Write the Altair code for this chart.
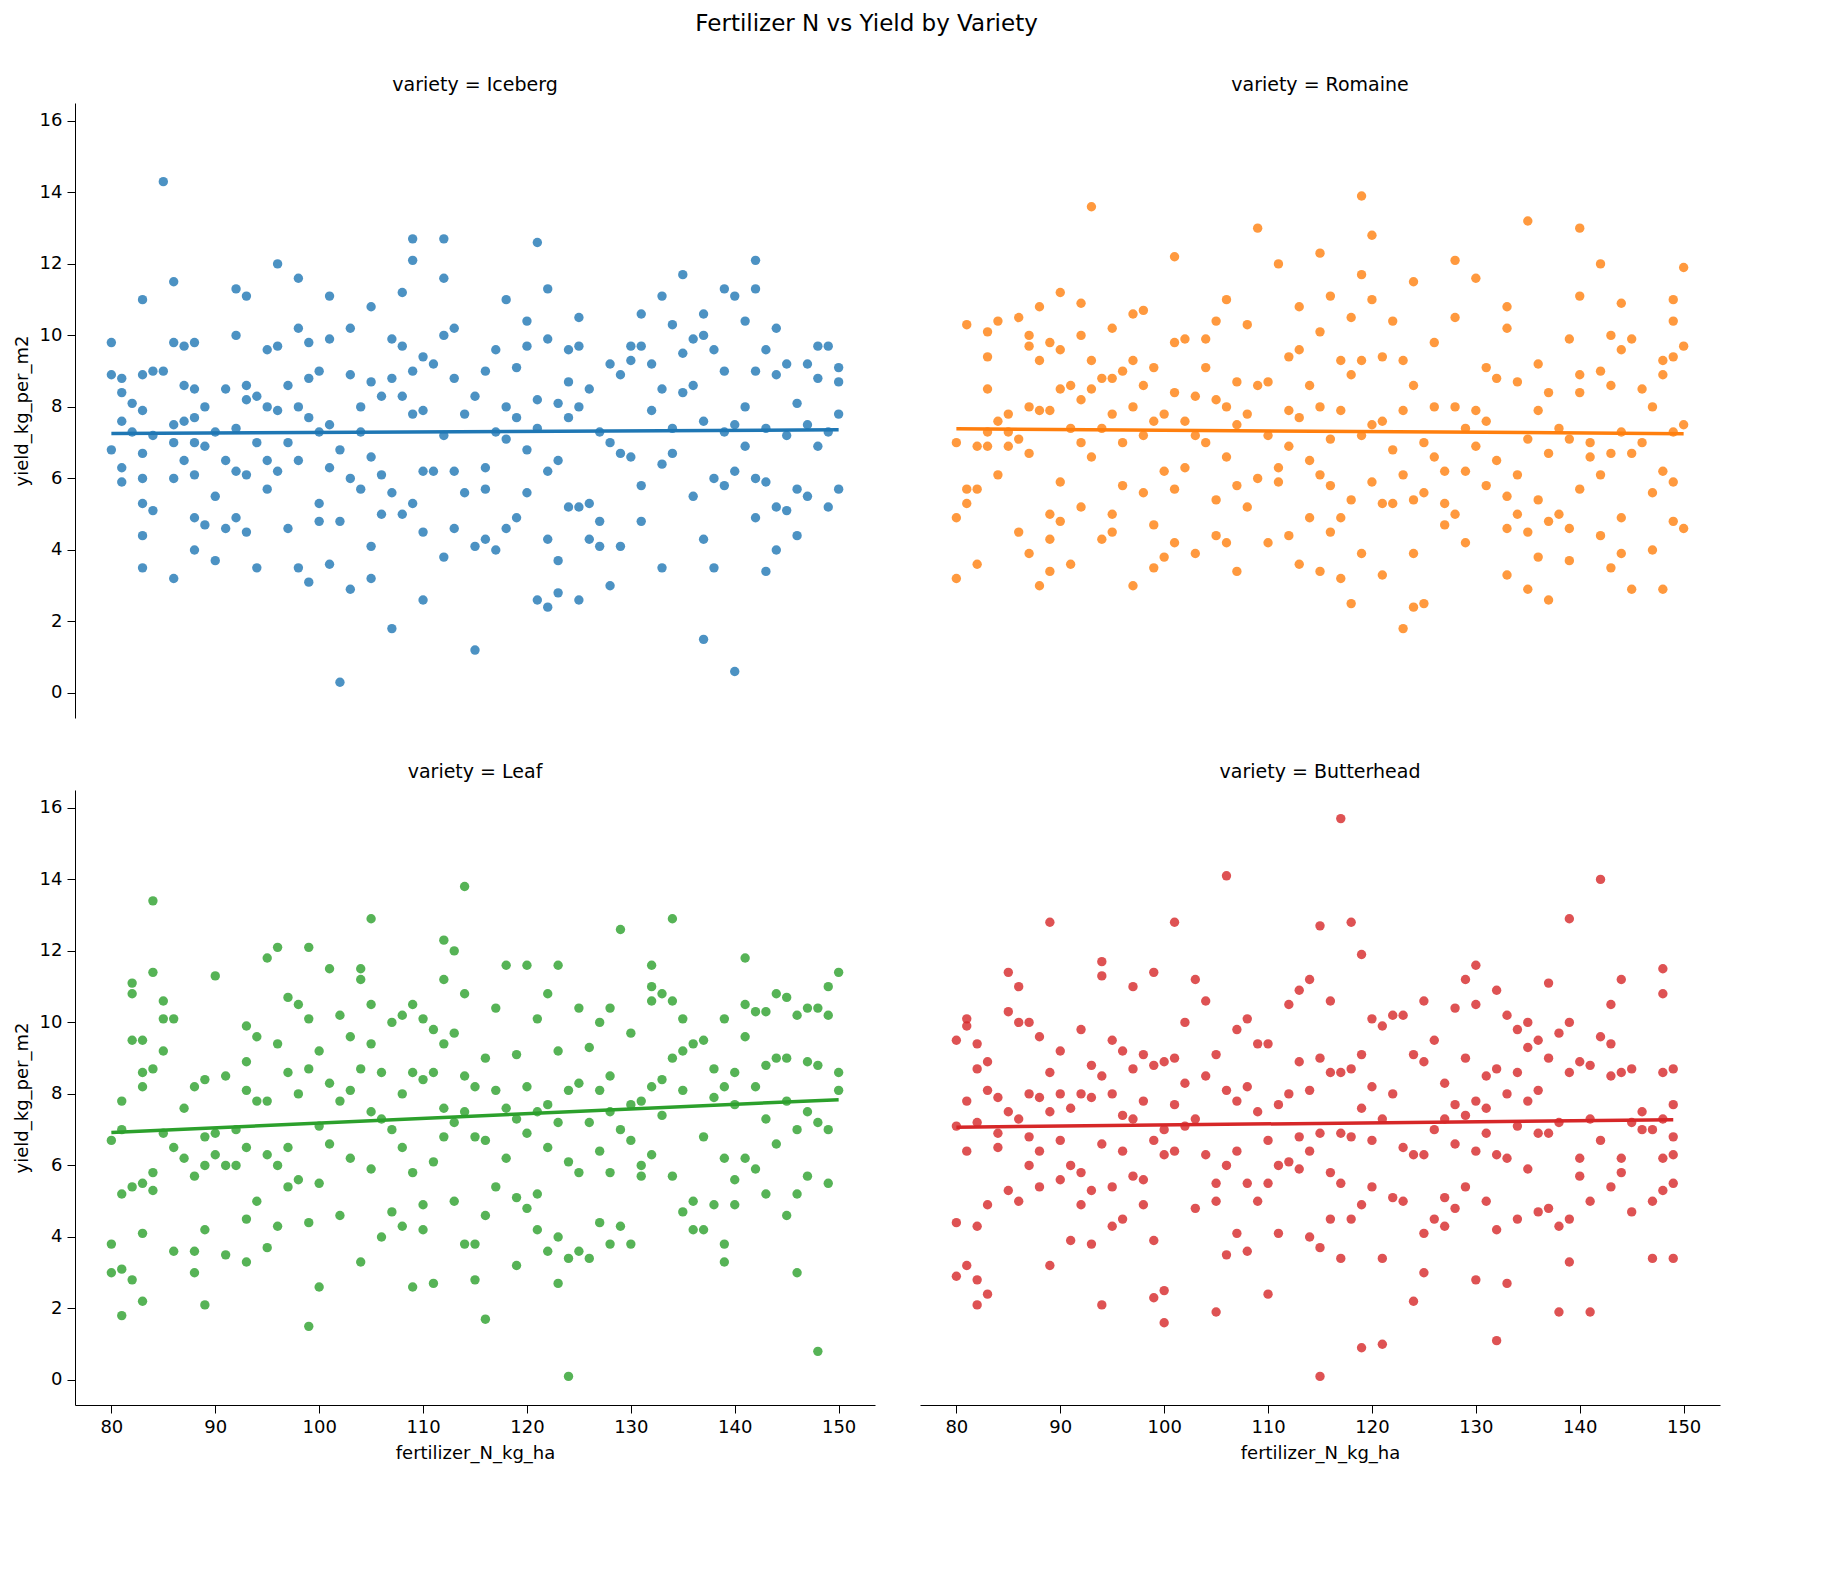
import altair as alt
import pandas as pd

varieties = ["Iceberg", "Romaine", "Leaf", "Butterhead"]
colors = ["#1f77b4", "#ff7f0e", "#2ca02c", "#d62728"]

# (fertilizer_N_kg_ha, yield_kg_per_m2)
iceberg = [(80,9.8),(80,8.9),(80,6.8),(81,8.8),(81,8.4),(81,7.6),(81,6.3),(81,5.9),(82,8.1),(82,7.3),(83,11.0),(83,8.9),(83,7.9),(83,6.7),(83,6.0),(83,5.3),(83,4.4),(83,3.5),(84,9.0),(84,7.2),(84,5.1),(85,14.3),(85,9.0),(86,11.5),(86,9.8),(86,7.5),(86,7.0),(86,6.0),(86,3.2),(87,9.7),(87,8.6),(87,7.6),(87,6.5),(88,9.8),(88,8.5),(88,7.7),(88,7.0),(88,6.1),(88,4.9),(88,4.0),(89,8.0),(89,6.9),(89,4.7),(90,7.3),(90,5.5),(90,3.7),(91,8.5),(91,6.5),(91,4.6),(92,11.3),(92,10.0),(92,7.4),(92,6.2),(92,4.9),(93,11.1),(93,8.6),(93,8.2),(93,6.1),(93,4.5),(94,8.3),(94,7.0),(94,3.5),(95,9.6),(95,8.0),(95,6.5),(95,5.7),(96,12.0),(96,9.7),(96,7.9),(96,6.2),(97,8.6),(97,7.0),(97,4.6),(98,11.6),(98,10.2),(98,8.0),(98,6.5),(98,3.5),(99,9.8),(99,8.8),(99,7.7),(99,3.1),(100,5.3),(100,4.8),(100,9.0),(100,7.3),(101,11.1),(101,9.9),(101,7.5),(101,6.3),(101,3.6),(102,6.8),(102,0.3),(102,4.8),(103,10.2),(103,8.9),(103,6.0),(103,2.9),(104,8.0),(104,7.3),(104,5.7),(105,10.8),(105,8.7),(105,6.6),(105,4.1),(105,3.2),(106,8.3),(106,6.1),(106,5.0),(107,9.9),(107,8.8),(107,5.6),(107,1.8),(108,11.2),(108,9.7),(108,8.3),(108,5.0),(109,12.7),(109,12.1),(109,9.0),(109,7.8),(109,5.3),(110,9.4),(110,7.9),(110,6.2),(110,4.5),(110,2.6),(111,9.2),(111,6.2),(112,12.7),(112,11.6),(112,10.0),(112,7.2),(112,3.8),(113,10.2),(113,8.8),(113,6.2),(113,4.6),(114,7.8),(114,5.6),(115,8.3),(115,4.1),(115,1.2),(116,9.0),(116,6.3),(116,5.7),(116,4.3),(117,9.6),(117,7.3),(117,4.0),(118,11.0),(118,8.0),(118,7.1),(118,4.6),(119,9.1),(119,7.7),(119,4.9),(120,10.4),(120,9.7),(120,6.8),(120,5.6),(121,12.6),(121,8.2),(121,7.4),(121,2.6),(122,11.3),(122,9.9),(122,6.2),(122,4.3),(122,2.4),(123,8.1),(123,6.5),(123,3.7),(123,2.8),(124,9.6),(124,8.7),(124,7.7),(124,5.2),(125,10.5),(125,9.7),(125,8.0),(125,5.2),(125,2.6),(126,8.5),(126,5.3),(126,4.3),(127,7.3),(127,4.8),(127,4.1),(128,9.2),(128,7.0),(128,3.0),(129,8.9),(129,6.7),(129,4.1),(130,9.7),(130,9.3),(130,6.6),(131,10.6),(131,9.7),(131,5.8),(131,4.8),(132,9.2),(132,7.9),(133,11.1),(133,8.5),(133,3.5),(133,6.4),(134,10.3),(134,7.4),(134,6.7),(135,11.7),(135,9.5),(135,8.4),(136,9.9),(136,8.6),(136,5.5),(137,10.6),(137,10.0),(137,7.6),(137,4.3),(137,1.5),(138,9.6),(138,6.0),(138,3.5),(139,11.3),(139,9.0),(139,7.3),(139,5.8),(140,11.1),(140,7.5),(140,6.2),(140,0.6),(141,10.4),(141,8.0),(141,6.9),(142,12.1),(142,11.3),(142,9.0),(142,6.0),(142,4.9),(143,9.6),(143,7.4),(143,5.9),(143,3.4),(144,10.2),(144,8.9),(144,5.2),(144,4.0),(145,9.2),(145,7.2),(145,5.1),(146,8.1),(146,5.7),(146,4.4),(147,9.2),(147,7.5),(147,5.5),(148,9.7),(148,8.8),(148,6.9),(149,9.7),(149,7.3),(149,5.2),(150,9.1),(150,8.7),(150,7.8),(150,5.7)]

romaine = [(80,7.0),(80,4.9),(80,3.2),(81,10.3),(81,5.7),(81,5.3),(82,6.9),(82,5.7),(82,3.6),(83,10.1),(83,9.4),(83,8.5),(83,7.3),(83,6.9),(84,10.4),(84,7.6),(84,6.1),(85,7.8),(85,7.3),(85,6.9),(86,10.5),(86,7.1),(86,4.5),(87,10.0),(87,9.7),(87,8.0),(87,6.7),(87,3.9),(88,10.8),(88,9.3),(88,7.9),(88,3.0),(89,9.8),(89,7.9),(89,5.0),(89,4.3),(89,3.4),(90,11.2),(90,9.6),(90,8.5),(90,5.9),(90,4.8),(91,8.6),(91,7.4),(91,3.6),(92,10.9),(92,10.0),(92,8.2),(92,7.0),(92,5.2),(93,13.6),(93,9.3),(93,8.5),(93,6.6),(94,8.8),(94,7.4),(94,4.3),(95,10.2),(95,8.8),(95,7.8),(95,5.0),(95,4.5),(96,9.0),(96,7.0),(96,5.8),(97,10.6),(97,9.3),(97,8.0),(97,3.0),(98,10.7),(98,8.6),(98,7.2),(98,5.6),(99,9.1),(99,7.6),(99,4.7),(99,3.5),(100,7.8),(100,6.2),(100,3.8),(101,12.2),(101,9.8),(101,8.4),(101,5.7),(101,4.2),(102,9.9),(102,7.6),(102,6.3),(103,8.3),(103,7.2),(103,3.9),(104,9.9),(104,9.1),(104,7.0),(105,10.4),(105,8.2),(105,5.4),(105,4.4),(106,11.0),(106,8.0),(106,6.6),(106,4.2),(107,8.7),(107,7.5),(107,5.8),(107,3.4),(108,10.3),(108,7.8),(108,5.2),(109,13.0),(109,8.6),(109,6.0),(110,8.7),(110,7.2),(110,4.2),(111,12.0),(111,6.3),(111,5.9),(112,9.4),(112,7.9),(112,6.9),(112,4.4),(113,10.8),(113,9.6),(113,7.7),(113,3.6),(114,8.6),(114,6.5),(114,4.9),(115,12.3),(115,10.1),(115,8.0),(115,6.1),(115,3.4),(116,11.1),(116,7.1),(116,5.8),(116,4.5),(117,9.3),(117,7.9),(117,4.9),(117,3.2),(118,10.5),(118,8.9),(118,5.4),(118,2.5),(119,13.9),(119,11.7),(119,9.3),(119,7.2),(119,3.9),(120,12.8),(120,11.0),(120,7.5),(120,5.9),(121,9.4),(121,7.6),(121,5.3),(121,3.3),(122,10.4),(122,6.8),(122,5.3),(123,9.3),(123,7.9),(123,6.1),(123,1.8),(124,11.5),(124,8.6),(124,5.4),(124,3.9),(124,2.4),(125,7.0),(125,5.6),(125,2.5),(126,9.8),(126,8.0),(126,6.6),(127,6.2),(127,5.3),(127,4.7),(128,12.1),(128,10.5),(128,8.0),(128,5.0),(129,7.4),(129,6.2),(129,4.2),(130,11.6),(130,7.9),(130,6.9),(131,9.1),(131,7.6),(131,5.8),(132,8.8),(132,6.5),(133,10.8),(133,10.2),(133,5.5),(133,4.6),(133,3.3),(134,8.7),(134,6.1),(134,5.0),(135,13.2),(135,7.1),(135,4.5),(135,2.9),(136,9.2),(136,7.9),(136,5.4),(136,3.8),(137,8.4),(137,6.7),(137,4.8),(137,2.6),(138,7.4),(138,5.0),(139,9.9),(139,7.1),(139,4.6),(139,3.7),(140,13.0),(140,11.1),(140,8.9),(140,8.4),(140,5.7),(141,7.0),(141,6.6),(142,12.0),(142,9.0),(142,6.1),(142,4.4),(143,10.0),(143,8.6),(143,6.7),(143,3.5),(144,10.9),(144,9.6),(144,7.3),(144,4.9),(144,3.9),(145,9.9),(145,6.7),(145,2.9),(146,8.5),(146,7.0),(147,8.0),(147,5.6),(147,4.0),(148,9.3),(148,8.9),(148,6.2),(148,2.9),(149,11.0),(149,10.4),(149,9.4),(149,7.3),(149,5.9),(149,4.8),(150,11.9),(150,9.7),(150,7.5),(150,4.6)]

leaf = [(80,6.7),(80,3.8),(80,3.0),(81,7.8),(81,7.0),(81,5.2),(81,3.1),(81,1.8),(82,11.1),(82,10.8),(82,9.5),(82,5.4),(82,2.8),(83,9.5),(83,8.6),(83,8.2),(83,5.5),(83,4.1),(83,2.2),(84,13.4),(84,11.4),(84,8.7),(84,5.8),(84,5.3),(85,10.6),(85,10.1),(85,9.2),(85,6.9),(86,10.1),(86,6.5),(86,3.6),(87,7.6),(87,6.2),(88,8.2),(88,5.7),(88,3.6),(88,3.0),(89,8.4),(89,6.8),(89,6.0),(89,4.2),(89,2.1),(90,11.3),(90,6.9),(90,6.3),(91,8.5),(91,6.0),(91,3.5),(92,7.0),(92,6.0),(93,9.9),(93,8.9),(93,8.1),(93,6.5),(93,4.5),(93,3.3),(94,9.6),(94,7.8),(94,5.0),(95,11.8),(95,7.8),(95,6.3),(95,3.7),(96,12.1),(96,9.4),(96,6.0),(96,4.3),(97,10.7),(97,8.6),(97,6.5),(97,5.4),(98,10.5),(98,8.0),(98,5.6),(99,12.1),(99,10.1),(99,8.7),(99,4.4),(99,1.5),(100,9.2),(100,7.1),(100,5.5),(100,2.6),(101,11.5),(101,8.3),(101,6.6),(102,10.2),(102,7.8),(102,4.6),(103,9.6),(103,8.1),(103,6.2),(104,11.5),(104,11.2),(104,8.7),(104,3.3),(105,12.9),(105,10.5),(105,9.4),(105,7.5),(105,5.9),(106,8.6),(106,7.3),(106,4.0),(107,10.0),(107,7.0),(107,4.7),(108,10.2),(108,8.0),(108,6.5),(108,4.3),(109,10.5),(109,8.6),(109,5.8),(109,2.6),(110,10.1),(110,8.4),(110,4.9),(110,4.2),(111,9.8),(111,8.6),(111,6.1),(111,2.7),(112,12.3),(112,11.2),(112,9.4),(112,7.6),(112,6.8),(113,12.0),(113,9.7),(113,7.2),(113,5.0),(114,13.8),(114,10.8),(114,8.5),(114,7.5),(114,3.8),(115,8.2),(115,6.8),(115,3.8),(115,2.8),(116,9.0),(116,6.7),(116,4.6),(116,1.7),(117,10.4),(117,8.1),(117,5.4),(118,11.6),(118,7.6),(118,6.2),(119,9.1),(119,7.3),(119,5.1),(119,3.2),(120,11.6),(120,8.2),(120,6.9),(120,4.8),(121,10.1),(121,7.5),(121,5.2),(121,4.2),(122,10.8),(122,7.7),(122,6.5),(122,3.6),(123,11.6),(123,9.2),(123,7.2),(123,4.0),(123,2.7),(124,8.1),(124,6.1),(124,3.4),(124,0.1),(125,10.4),(125,8.3),(125,5.8),(125,3.6),(126,9.3),(126,7.2),(126,3.4),(127,10.0),(127,8.1),(127,6.4),(127,4.4),(128,10.4),(128,8.5),(128,7.5),(128,5.8),(128,3.8),(129,12.6),(129,7.0),(129,4.3),(130,9.7),(130,7.7),(130,6.7),(130,3.8),(131,7.8),(131,6.0),(131,5.7),(132,11.6),(132,11.0),(132,10.6),(132,8.2),(132,6.3),(133,10.8),(133,8.4),(133,7.4),(134,12.9),(134,10.6),(134,9.0),(134,5.7),(135,10.1),(135,9.2),(135,8.1),(135,4.7),(136,9.4),(136,5.0),(136,4.2),(137,9.5),(137,6.8),(137,4.2),(138,8.7),(138,7.9),(138,4.9),(139,10.1),(139,8.2),(139,6.2),(139,3.8),(139,3.3),(140,8.6),(140,7.7),(140,5.6),(140,4.9),(141,11.8),(141,10.5),(141,9.6),(141,6.2),(142,10.3),(142,8.2),(142,5.9),(143,10.3),(143,8.8),(143,7.3),(143,5.2),(144,10.8),(144,9.0),(144,6.6),(145,10.7),(145,9.0),(145,7.8),(145,4.6),(146,10.2),(146,7.0),(146,5.2),(146,3.0),(147,10.4),(147,8.9),(147,7.5),(147,5.7),(148,10.4),(148,8.8),(148,7.2),(148,0.8),(149,11.0),(149,10.2),(149,7.0),(149,5.5),(150,11.4),(150,8.6),(150,8.1)]

butterhead = [(80,9.5),(80,7.1),(80,4.4),(80,2.9),(81,10.1),(81,9.9),(81,7.8),(81,6.4),(81,3.2),(82,9.4),(82,8.7),(82,7.2),(82,4.3),(82,2.8),(82,2.1),(83,8.9),(83,8.1),(83,4.9),(83,2.4),(84,7.9),(84,6.9),(84,6.5),(85,11.4),(85,10.3),(85,7.5),(85,5.3),(86,11.0),(86,10.0),(86,7.3),(86,5.0),(87,10.0),(87,8.0),(87,6.8),(87,6.0),(88,9.6),(88,7.9),(88,6.4),(88,5.4),(89,12.8),(89,8.6),(89,7.5),(89,3.2),(90,9.2),(90,8.0),(90,6.7),(90,5.6),(91,7.6),(91,6.0),(91,3.9),(92,9.8),(92,8.0),(92,5.8),(92,4.9),(93,8.8),(93,7.9),(93,5.3),(93,3.8),(94,11.7),(94,11.3),(94,8.5),(94,6.6),(94,2.1),(95,9.5),(95,8.0),(95,5.4),(95,4.3),(96,9.2),(96,7.4),(96,6.4),(96,4.5),(97,11.0),(97,8.7),(97,7.3),(97,5.7),(98,9.1),(98,7.8),(98,5.6),(98,4.9),(99,11.4),(99,8.8),(99,6.7),(99,3.9),(99,2.3),(100,8.9),(100,7.0),(100,6.3),(100,2.5),(100,1.6),(101,12.8),(101,9.0),(101,7.7),(101,6.4),(102,10.0),(102,8.3),(102,7.1),(103,11.2),(103,7.3),(103,4.8),(104,10.6),(104,8.5),(104,6.3),(105,9.1),(105,5.5),(105,5.0),(105,1.9),(106,14.1),(106,8.1),(106,6.0),(106,3.5),(107,9.8),(107,7.8),(107,6.4),(107,4.1),(108,10.1),(108,8.2),(108,5.5),(108,3.6),(109,9.4),(109,7.5),(109,5.0),(110,9.4),(110,6.7),(110,5.5),(110,2.4),(111,7.7),(111,6.0),(111,4.1),(112,10.5),(112,8.0),(112,6.1),(113,10.9),(113,8.9),(113,6.8),(113,5.9),(114,11.2),(114,8.1),(114,6.4),(114,4.0),(115,12.7),(115,9.0),(115,6.9),(115,3.7),(115,0.1),(116,10.6),(116,8.6),(116,5.8),(116,4.5),(117,15.7),(117,8.6),(117,6.9),(117,5.5),(117,3.4),(118,12.8),(118,8.7),(118,6.8),(118,4.5),(119,11.9),(119,9.1),(119,7.6),(119,4.9),(119,0.9),(120,10.1),(120,8.2),(120,6.7),(120,5.4),(121,9.9),(121,7.3),(121,3.4),(121,1.0),(122,10.2),(122,8.0),(122,5.1),(123,10.2),(123,6.5),(123,5.0),(124,9.1),(124,6.3),(124,2.2),(125,10.6),(125,8.9),(125,6.3),(125,4.1),(125,3.0),(126,9.5),(126,7.0),(126,4.5),(127,8.3),(127,7.3),(127,5.1),(127,4.3),(128,10.4),(128,7.7),(128,6.6),(128,4.8),(129,11.2),(129,9.0),(129,7.4),(129,5.4),(130,11.6),(130,10.5),(130,7.8),(130,6.4),(130,2.8),(131,8.5),(131,7.6),(131,6.9),(131,5.0),(132,10.9),(132,8.7),(132,6.3),(132,4.2),(132,1.1),(133,10.2),(133,8.0),(133,6.2),(133,2.7),(134,9.8),(134,8.6),(134,7.1),(134,4.5),(135,10.0),(135,9.3),(135,7.8),(135,5.9),(136,9.5),(136,8.1),(136,6.9),(136,4.7),(137,11.1),(137,9.0),(137,6.9),(137,4.8),(138,9.7),(138,7.2),(138,4.3),(138,1.9),(139,12.9),(139,10.0),(139,8.6),(139,4.5),(139,3.3),(140,8.9),(140,6.2),(140,5.7),(141,8.8),(141,7.3),(141,5.0),(141,1.9),(142,14.0),(142,9.6),(142,6.7),(143,10.5),(143,9.4),(143,8.5),(143,5.4),(144,11.2),(144,8.6),(144,6.2),(144,5.8),(145,8.7),(145,7.2),(145,4.7),(146,7.5),(146,7.0),(147,7.0),(147,5.0),(147,3.4),(148,11.5),(148,10.8),(148,8.6),(148,7.3),(148,6.2),(148,5.3),(149,8.7),(149,7.7),(149,6.8),(149,6.3),(149,5.5),(149,3.4)]

rows = []
for name, pts in zip(varieties, [iceberg, romaine, leaf, butterhead]):
    for x, y in pts:
        rows.append({"variety": name, "fertilizer_N_kg_ha": x, "yield_kg_per_m2": y})
df = pd.DataFrame(rows)

color = alt.Color("variety:N", scale=alt.Scale(domain=varieties, range=colors), legend=None)
x_enc = alt.X("fertilizer_N_kg_ha:Q", title="fertilizer_N_kg_ha",
              scale=alt.Scale(domain=[76.5, 153.5], nice=False, zero=False),
              axis=alt.Axis(values=list(range(80, 151, 10))))
y_enc = alt.Y("yield_kg_per_m2:Q", title="yield_kg_per_m2",
              scale=alt.Scale(domain=[-0.7, 16.5], nice=False),
              axis=alt.Axis(values=list(range(0, 17, 2))))

points = alt.Chart().mark_circle(size=88, opacity=0.8).encode(x=x_enc, y=y_enc, color=color)
line = (
    alt.Chart()
    .transform_regression("fertilizer_N_kg_ha", "yield_kg_per_m2", groupby=["variety"])
    .mark_line(strokeWidth=3.5)
    .encode(x=x_enc, y=y_enc, color=color)
)

chart = (
    alt.layer(points, line, data=df)
    .properties(width=800, height=615)
    .facet(
        facet=alt.Facet("variety:N", sort=varieties, title=None,
                        header=alt.Header(labelExpr="'variety = ' + datum.value",
                                          labelFontSize=19, labelFont="DejaVu Sans",
                                          labelPadding=8)),
        columns=2,
        spacing={"row": 45, "column": 45},
    )
    .properties(title=alt.TitleParams("Fertilizer N vs Yield by Variety", fontSize=23,
                                      fontWeight="normal", font="DejaVu Sans",
                                      anchor="middle", offset=40))
    .configure_view(stroke=None)
    .configure_axis(grid=False, domainColor="black", tickColor="black", labelColor="black",
                    titleColor="black", labelFontSize=18, titleFontSize=18,
                    labelFont="DejaVu Sans", titleFont="DejaVu Sans", titleFontWeight="normal",
                    tickSize=8, labelPadding=5, titlePadding=8)
)

chart.save("out.html", embed_options={"renderer": "svg", "actions": False})
